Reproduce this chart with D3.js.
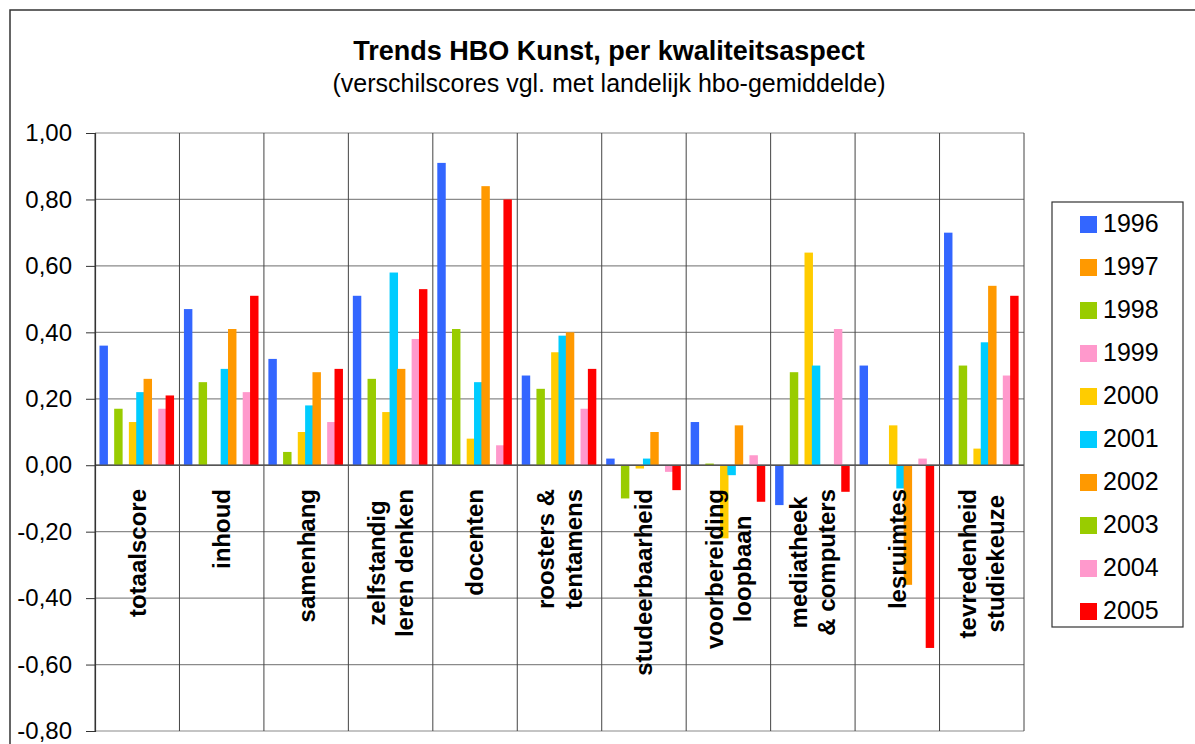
<!DOCTYPE html>
<html>
<head>
<meta charset="utf-8">
<script src="https://cdn.jsdelivr.net/npm/d3@7"></script>
<style>
 body { margin: 0; background: #fff; }
 text { font-family: "Liberation Sans", Arial, sans-serif; fill: #000; }
</style>
</head>
<body>
<script>
// Trends HBO Kunst - grouped bars per kwaliteitsaspect, one bar per year

// categories (label lines, rotated under the zero line)
var categories = [
 ["totaalscore"],
 ["inhoud"],
 ["samenhang"],
 ["zelfstandig", "leren denken"],
 ["docenten"],
 ["roosters &", "tentamens"],
 ["studeerbaarheid"],
 ["voorbereiding", "loopbaan"],
 ["mediatheek", "& computers"],
 ["lesruimtes"],
 ["tevredenheid", "studiekeuze"]
];

var years = ["1996", "1997", "1998", "1999", "2000", "2001", "2002", "2003", "2004", "2005"];
var colors = ["#3366FF", "#FF9900", "#99CC00", "#FF99CC", "#FFCC00", "#00CCFF", "#FF9900", "#99CC00", "#FF99CC", "#FF0000"];

// one value per category, null = no bar
var v1996 = [0.36, 0.47, 0.32, 0.51, 0.91, 0.27, 0.02, 0.13, -0.12, 0.30, 0.70];
var v1997 = [null, null, null, null, null, null, null, null, null, null, null];
var v1998 = [0.17, 0.25, 0.04, 0.26, 0.41, 0.23, -0.10, 0.005, 0.28, null, 0.30];
var v1999 = [null, null, null, null, null, null, null, null, null, null, null];
var v2000 = [0.13, null, 0.10, 0.16, 0.08, 0.34, -0.01, -0.22, 0.64, 0.12, 0.05];
var v2001 = [0.22, 0.29, 0.18, 0.58, 0.25, 0.39, 0.02, -0.03, 0.30, -0.07, 0.37];
var v2002 = [0.26, 0.41, 0.28, 0.29, 0.84, 0.40, 0.10, 0.12, null, -0.36, 0.54];
var v2003 = [null, null, null, null, null, null, null, null, null, null, null];
var v2004 = [0.17, 0.22, 0.13, 0.38, 0.06, 0.17, -0.02, 0.03, 0.41, 0.02, 0.27];
var v2005 = [0.21, 0.51, 0.29, 0.53, 0.80, 0.29, -0.075, -0.11, -0.08, -0.55, 0.51];

var series = [v1996, v1997, v1998, v1999, v2000, v2001, v2002, v2003, v2004, v2005];

var yTicks = [-0.8, -0.6, -0.4, -0.2, 0, 0.2, 0.4, 0.6, 0.8, 1.0];

var width = 1195, height = 744;
var plotLeft = 95, plotRight = 1024, plotTop = 133, plotBottom = 731;

var svg = d3.select("body").append("svg")
 .attr("width", width)
 .attr("height", height);

// outer chart border (runs off the right and bottom edge)
svg.append("rect")
 .attr("x", 10).attr("y", 10)
 .attr("width", 1210).attr("height", 800)
 .attr("fill", "#fff")
 .attr("stroke", "#333").attr("stroke-width", 1.5);

var nl = d3.formatLocale({decimal: ",", thousands: ".", grouping: [3], currency: ["€", ""], minus: "-"});
var fmt = nl.format(".2f");

var x0 = d3.scaleBand()
 .domain(d3.range(categories.length))
 .range([plotLeft, plotRight])
 .paddingInner(0).paddingOuter(0);

var bw = x0.bandwidth();
var barStep = bw * 0.087;
var barWidth = bw * 0.1;
var xs = d3.scaleLinear()
 .domain([0, years.length - 1])
 .range([bw * 0.053, bw * 0.053 + barStep * (years.length - 1)]);

var y = d3.scaleLinear().domain([-0.8, 1]).range([plotBottom, plotTop]);

// horizontal gridlines
svg.append("g").selectAll("line")
 .data(yTicks)
 .join("line")
 .attr("x1", plotLeft).attr("x2", plotRight)
 .attr("y1", d => y(d)).attr("y2", d => y(d))
 .attr("stroke", "#8a8a8a").attr("stroke-width", 1.2);

// vertical gridlines between categories
svg.append("g").selectAll("line")
 .data(d3.range(categories.length + 1))
 .join("line")
 .attr("x1", d => plotLeft + d * bw).attr("x2", d => plotLeft + d * bw)
 .attr("y1", plotTop).attr("y2", plotBottom)
 .attr("stroke", "#444").attr("stroke-width", 1);

// bars, year by year so later years sit on top
series.forEach(function (vals, si) {
 svg.append("g")
  .attr("fill", colors[si])
  .selectAll("rect")
  .data(vals.map((v, ci) => ({ci: ci, v: v})).filter(d => d.v !== null))
  .join("rect")
  .attr("x", d => x0(d.ci) + xs(si))
  .attr("width", barWidth)
  .attr("y", d => y(Math.max(0, d.v)))
  .attr("height", d => Math.abs(y(d.v) - y(0)));
});

// zero line (category axis)
svg.append("line")
 .attr("x1", plotLeft).attr("x2", plotRight)
 .attr("y1", y(0)).attr("y2", y(0))
 .attr("stroke", "#555").attr("stroke-width", 1.5);

// value axis
var yAxis = d3.axisLeft(y).tickValues(yTicks).tickFormat(fmt).tickSize(9).tickPadding(14);
var gy = svg.append("g").attr("transform", "translate(" + plotLeft + ",0)").call(yAxis);
gy.select(".domain").attr("stroke", "#333").attr("stroke-width", 1.2);
gy.selectAll(".tick line").attr("stroke", "#333");
gy.selectAll(".tick text")
 .style("font-family", "'Liberation Sans', Arial, sans-serif")
 .style("font-size", "24px")
 .attr("fill", "#000");

// category labels, rotated, lines centred on each other
var labelTop = 489;
var lineGap = 28;
categories.forEach(function (lines, ci) {
 var cx = x0(ci) + bw / 2;
 var t = svg.append("text")
  .attr("text-anchor", "middle")
  .style("font-size", "24px")
  .style("font-weight", "bold");
 var spans = t.selectAll("tspan")
  .data(lines)
  .join("tspan")
  .attr("x", 0)
  .attr("y", (d, i) => (i - (lines.length - 1) / 2) * lineGap)
  .attr("dy", "0.35em")
  .text(d => d);
 var maxLen = d3.max(spans.nodes(), n => n.getComputedTextLength());
 t.attr("transform", "translate(" + cx + "," + (labelTop + maxLen / 2) + ") rotate(-90)");
});

// title
svg.append("text")
 .attr("x", 609).attr("y", 60)
 .attr("text-anchor", "middle")
 .style("font-size", "27px").style("font-weight", "bold")
 .text("Trends HBO Kunst, per kwaliteitsaspect");
svg.append("text")
 .attr("x", 609).attr("y", 92)
 .attr("text-anchor", "middle")
 .style("font-size", "25px")
 .text("(verschilscores vgl. met landelijk hbo-gemiddelde)");

// legend
var legend = svg.append("g");
legend.append("rect")
 .attr("x", 1052).attr("y", 202)
 .attr("width", 131).attr("height", 425)
 .attr("fill", "#fff").attr("stroke", "#333").attr("stroke-width", 1.2);
var items = legend.selectAll("g.item")
 .data(years)
 .join("g")
 .attr("class", "item")
 .attr("transform", (d, i) => "translate(1080," + (216 + i * 43) + ")");
items.append("rect")
 .attr("width", 17).attr("height", 17)
 .attr("fill", (d, i) => colors[i]);
items.append("text")
 .attr("x", 23).attr("y", 16)
 .style("font-size", "25px")
 .text(d => d);
</script>
</body>
</html>
